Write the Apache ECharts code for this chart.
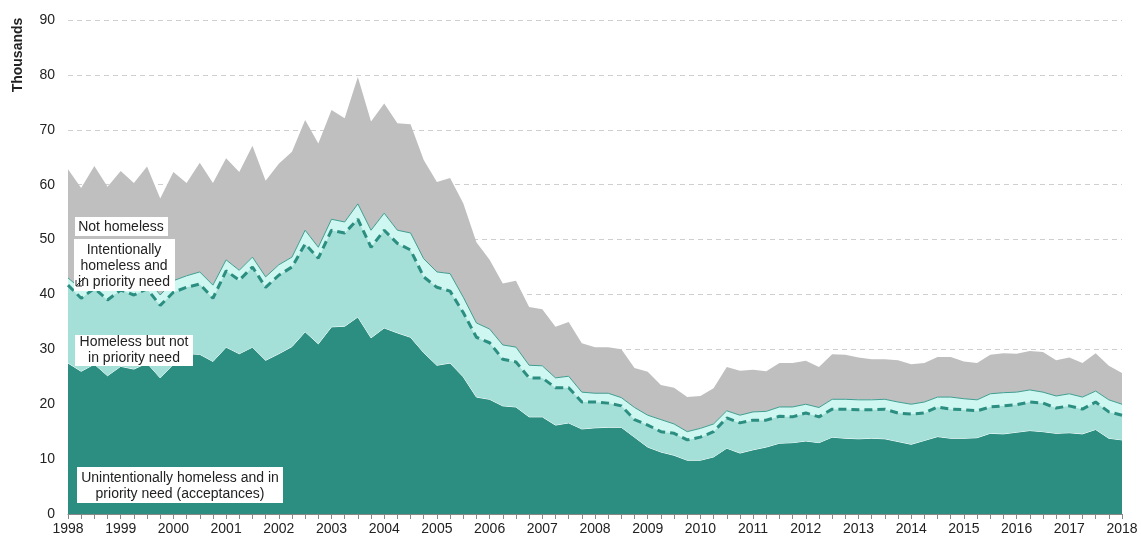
<!DOCTYPE html>
<html>
<head>
<meta charset="utf-8">
<script src="https://cdn.jsdelivr.net/npm/echarts@6/dist/echarts.min.js"></script>
<style>
  html, body { margin: 0; padding: 0; background: #fff; }
  #chart { width: 1141px; height: 538px; }
</style>
</head>
<body>
<div id="chart"></div>
<script>
// quarterly, 1998 Q1 .. 2018 Q1 (thousands)
var years = [1998, 1999, 2000, 2001, 2002, 2003, 2004, 2005, 2006, 2007, 2008, 2009, 2010, 2011, 2012, 2013, 2014, 2015, 2016, 2017, 2018]
var quarters = []
years.forEach(function (y) {
  for (var q = 1; q <= 4; q++) {
    if (y === 2018 && q > 1) break
    quarters.push(y + ' Q' + q)
  }
})

var acceptances = [
  27.5, 26.0, 27.3, 25.2, 26.9, 26.4, 27.5, 24.8, 27.3, 29.2,
  29.1, 27.8, 30.4, 29.2, 30.4, 28.0, 29.2, 30.5, 33.2, 31.0,
  34.1, 34.2, 35.9, 32.1, 33.9, 33.0, 32.2, 29.4, 27.1, 27.5,
  25.0, 21.3, 20.9, 19.7, 19.5, 17.7, 17.7, 16.2, 16.6, 15.5,
  15.7, 15.8, 15.8, 14.0, 12.2, 11.3, 10.7, 9.8, 9.8, 10.4,
  12.0, 11.1, 11.7, 12.2, 12.9, 13.0, 13.3, 13.0, 14.0, 13.8,
  13.7, 13.8, 13.7, 13.2, 12.7, 13.4, 14.1, 13.8, 13.8, 13.9,
  14.7, 14.6, 14.9, 15.2, 15.0, 14.7, 14.8, 14.6, 15.4, 13.8,
  13.5
]
var notPriority = [
  14.2, 13.3, 13.8, 13.8, 13.9, 13.5, 13.5, 13.2, 13.1, 12.1,
  12.8, 11.5, 13.9, 13.4, 14.6, 13.3, 14.3, 14.5, 16.0, 15.6,
  17.6, 17.0, 17.8, 16.5, 17.8, 16.3, 15.9, 13.8, 14.2, 13.1,
  11.7, 10.9, 10.3, 8.5, 8.2, 7.1, 7.1, 6.8, 6.4, 4.9,
  4.7, 4.4, 3.9, 3.2, 4.0, 3.7, 4.0, 3.7, 4.2, 4.6,
  5.5, 5.5, 5.4, 4.9, 4.9, 4.7, 5.1, 4.7, 5.1, 5.3,
  5.3, 5.2, 5.4, 5.2, 5.5, 5.0, 5.4, 5.3, 5.2, 4.9,
  4.8, 5.1, 5.0, 5.2, 5.2, 4.6, 4.9, 4.5, 5.0, 4.8,
  4.5
]
var intentional = [
  1.3, 1.7, 1.7, 1.8, 1.7, 1.7, 1.8, 1.9, 2.1, 2.1,
  2.2, 2.4, 2.0, 1.8, 1.8, 1.9, 1.9, 1.8, 2.5, 2.0,
  2.0, 2.0, 2.8, 3.1, 3.1, 2.4, 3.1, 3.3, 2.8, 3.2,
  2.8, 2.6, 2.5, 2.6, 2.7, 2.3, 2.2, 1.8, 2.1, 1.8,
  1.6, 1.8, 1.5, 2.2, 1.8, 2.2, 1.7, 1.5, 1.6, 1.4,
  1.3, 1.4, 1.5, 1.6, 1.7, 1.8, 1.6, 1.7, 1.8, 1.8,
  1.8, 1.8, 1.8, 2.0, 1.8, 2.0, 1.8, 2.2, 2.0, 2.0,
  2.4, 2.4, 2.3, 2.2, 2.0, 2.2, 2.2, 2.2, 2.0, 2.2,
  2.0
]
var notHomeless = [
  19.8, 18.4, 20.6, 18.8, 20.0, 18.7, 20.5, 17.6, 19.8, 16.9,
  19.9, 18.6, 18.5, 17.9, 20.3, 17.5, 18.4, 19.2, 20.1, 18.9,
  19.9, 18.9, 23.1, 19.8, 20.0, 19.5, 19.8, 18.0, 16.4, 17.4,
  17.1, 14.7, 12.6, 11.2, 12.1, 10.6, 10.3, 9.3, 9.9, 8.9,
  8.4, 8.4, 8.8, 7.2, 7.9, 6.3, 6.6, 6.3, 5.9, 6.5,
  8.0, 8.1, 7.7, 7.3, 8.0, 8.0, 7.9, 7.4, 8.2, 8.1,
  7.7, 7.4, 7.3, 7.6, 7.3, 7.1, 7.3, 7.3, 6.8, 6.7,
  7.1, 7.2, 7.0, 7.1, 7.3, 6.5, 6.6, 6.2, 6.9, 6.2,
  5.7
]

var FONT = '"Liberation Sans", Arial, Helvetica, sans-serif'
var TEAL = '#2b8e81'

var chart = echarts.init(document.getElementById('chart'))

function box(x, y, w, h) {
  return { type: 'rect', z: 100, shape: { x: x, y: y, width: w, height: h }, style: { fill: '#fff' } }
}
function label(x, y, text) {
  return {
    type: 'text', z: 101, x: x, y: y,
    style: { text: text, font: '14px ' + FONT, fill: '#222', align: 'center', verticalAlign: 'middle', lineHeight: 16 }
  }
}

chart.setOption({
  animation: false,
  grid: { left: 68, right: 19, top: 20, bottom: 24 },
  xAxis: {
    type: 'category',
    data: quarters,
    boundaryGap: false,
    axisLine: { lineStyle: { color: '#888', width: 1 } },
    axisTick: { interval: 0, length: 5, lineStyle: { color: '#888' } },
    axisLabel: {
      interval: function (i) { return i % 4 === 0 },
      formatter: function (v) { return v.slice(0, 4) },
      color: '#222', fontSize: 14, fontFamily: FONT, margin: 8
    },
    splitLine: { show: false }
  },
  yAxis: {
    type: 'value',
    min: 0, max: 90, interval: 10,
    axisLine: { show: false },
    axisTick: { show: false },
    axisLabel: { color: '#222', fontSize: 14, fontFamily: FONT, margin: 13 },
    splitLine: { lineStyle: { color: '#cfcfcf', type: [5, 4], width: 1 } }
  },
  series: [
    {
      name: 'Unintentionally homeless and in priority need (acceptances)',
      type: 'line', stack: 'total', data: acceptances, showSymbol: false, z: 2,
      lineStyle: { color: '#fff', width: 1 },
      areaStyle: { color: TEAL, opacity: 1 }
    },
    {
      name: 'Homeless but not in priority need',
      type: 'line', stack: 'total', data: notPriority, showSymbol: false, z: 4,
      lineStyle: { color: TEAL, width: 3, type: [8, 5] },
      areaStyle: { color: '#a5e0d8', opacity: 1 }
    },
    {
      name: 'Intentionally homeless and in priority need',
      type: 'line', stack: 'total', data: intentional, showSymbol: false, z: 3,
      lineStyle: { color: '#3f9d90', width: 1 },
      areaStyle: { color: '#cdf7f0', opacity: 1 }
    },
    {
      name: 'Not homeless',
      type: 'line', stack: 'total', data: notHomeless, showSymbol: false, z: 2,
      lineStyle: { color: '#bfbfbf', width: 0 },
      areaStyle: { color: '#bfbfbf', opacity: 1 }
    }
  ],
  graphic: [
    {
      type: 'text', z: 101, x: 18, y: 55, rotation: Math.PI / 2,
      style: { text: 'Thousands', font: 'bold 14px ' + FONT, fill: '#222', align: 'center', verticalAlign: 'middle' }
    },
    box(75, 217, 93, 19),
    label(121, 227, 'Not homeless'),
    box(74, 239, 101, 52),
    label(124, 266, 'Intentionally\nhomeless and\nin priority need'),
    box(75, 335, 118, 31),
    label(134, 350, 'Homeless but not\nin priority need'),
    box(77, 467, 206, 36),
    label(180, 486, 'Unintentionally homeless and in\npriority need (acceptances)'),
    {
      type: 'polyline', z: 102,
      shape: { points: [[85, 277], [76, 286]] },
      style: { stroke: '#333', lineWidth: 1, fill: null }
    },
    {
      type: 'polyline', z: 102,
      shape: { points: [[76, 280], [76, 286], [82, 286]] },
      style: { stroke: '#333', lineWidth: 1, fill: null }
    }
  ]
})
</script>
</body>
</html>
